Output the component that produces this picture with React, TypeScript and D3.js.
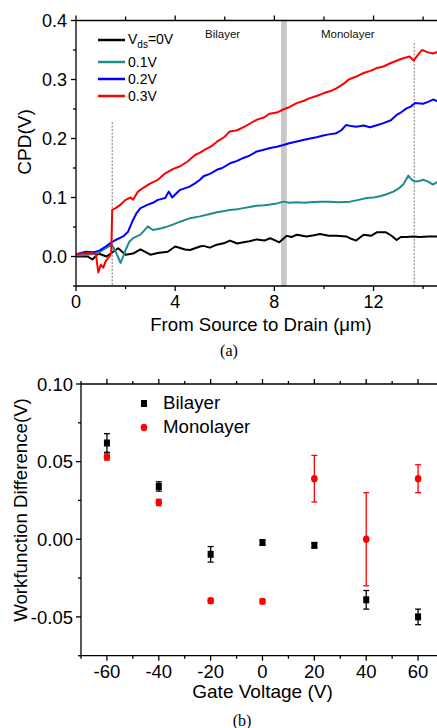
import React from "react";
import * as d3 from "d3";

// ---------- Panel (a) data ----------
const redX = [0, 0.3, 0.6, 0.8, 0.9, 1.0, 1.1, 1.2, 1.35, 1.42, 1.46, 1.6, 1.8, 2.0, 2.2, 2.3, 2.5, 2.7, 3.0, 3.3, 3.6, 3.9, 4.2, 4.5, 4.8, 5.0, 5.2, 5.5, 5.7, 6.0, 6.2, 6.5, 6.8, 7.0, 7.3, 7.6, 7.8, 8.1, 8.4, 8.6, 8.9, 9.2, 9.4, 9.7, 10.0, 10.3, 10.5, 10.8, 11.0, 11.3, 11.6, 11.9, 12.1, 12.4, 12.7, 13.0, 13.2, 13.45, 13.62, 13.8, 13.95, 14.2, 14.4, 14.6];
const redY = [0.004, 0.005, 0.006, 0.004, -0.027, -0.014, -0.019, -0.008, 0.0, 0.006, 0.079, 0.082, 0.088, 0.096, 0.1, 0.096, 0.11, 0.116, 0.124, 0.13, 0.141, 0.148, 0.153, 0.161, 0.172, 0.176, 0.181, 0.188, 0.195, 0.203, 0.212, 0.214, 0.22, 0.225, 0.232, 0.236, 0.242, 0.244, 0.25, 0.253, 0.26, 0.264, 0.268, 0.272, 0.277, 0.281, 0.285, 0.293, 0.3, 0.305, 0.311, 0.315, 0.319, 0.322, 0.328, 0.333, 0.336, 0.339, 0.332, 0.342, 0.35, 0.346, 0.344, 0.347];

const blueX = [0, 0.4, 0.7, 0.94, 1.2, 1.4, 1.6, 1.9, 2.1, 2.3, 2.45, 2.6, 2.9, 3.1, 3.3, 3.6, 3.74, 3.88, 4.0, 4.2, 4.56, 4.8, 5.0, 5.14, 5.4, 5.68, 5.9, 6.21, 6.5, 6.75, 7.0, 7.29, 7.5, 7.83, 8.1, 8.37, 8.6, 8.91, 9.2, 9.44, 9.7, 9.97, 10.2, 10.5, 10.7, 10.9, 11.1, 11.3, 11.6, 11.86, 12.1, 12.4, 12.7, 12.93, 13.1, 13.33, 13.5, 13.67, 14.0, 14.2, 14.4, 14.6];
const blueY = [0.004, 0.008, 0.007, 0.01, 0.017, 0.023, 0.028, 0.034, 0.042, 0.062, 0.074, 0.082, 0.088, 0.091, 0.096, 0.099, 0.11, 0.1, 0.105, 0.113, 0.118, 0.124, 0.13, 0.136, 0.14, 0.147, 0.15, 0.158, 0.162, 0.167, 0.171, 0.178, 0.18, 0.184, 0.186, 0.189, 0.192, 0.195, 0.198, 0.2, 0.202, 0.205, 0.207, 0.209, 0.214, 0.223, 0.221, 0.22, 0.222, 0.219, 0.222, 0.226, 0.231, 0.24, 0.244, 0.251, 0.254, 0.26, 0.259, 0.262, 0.266, 0.263];

const tealX = [0, 0.3, 0.6, 0.9, 1.2, 1.45, 1.6, 1.8, 2.0, 2.15, 2.3, 2.6, 2.9, 3.1, 3.45, 3.7, 3.9, 4.2, 4.6, 5.0, 5.4, 5.68, 6.0, 6.21, 6.5, 6.75, 7.0, 7.29, 7.6, 7.83, 8.1, 8.37, 8.6, 8.91, 9.2, 9.44, 9.84, 10.24, 10.6, 11.05, 11.4, 11.72, 12.0, 12.26, 12.5, 12.8, 13.0, 13.2, 13.4, 13.55, 13.67, 13.85, 14.0, 14.2, 14.4, 14.6];
const tealY = [0.002, 0.002, 0.004, 0.006, 0.014, 0.02, 0.008, -0.011, 0.011, 0.025, 0.031, 0.037, 0.051, 0.045, 0.048, 0.051, 0.054, 0.059, 0.065, 0.068, 0.072, 0.075, 0.077, 0.079, 0.08, 0.082, 0.084, 0.086, 0.087, 0.088, 0.09, 0.093, 0.091, 0.092, 0.091, 0.092, 0.093, 0.093, 0.092, 0.093, 0.096, 0.099, 0.1, 0.102, 0.105, 0.11, 0.115, 0.122, 0.137, 0.13, 0.127, 0.128, 0.13, 0.127, 0.122, 0.127];

const blackX = [0, 0.47, 0.66, 0.9, 1.23, 1.5, 1.7, 2.0, 2.3, 2.6, 3.0, 3.3, 3.7, 4.0, 4.4, 4.6, 5.0, 5.14, 5.4, 5.68, 6.0, 6.21, 6.5, 6.75, 7.0, 7.29, 7.6, 7.83, 8.2, 8.5, 8.7, 8.91, 9.3, 9.6, 9.84, 10.2, 10.5, 10.9, 11.1, 11.3, 11.6, 11.9, 12.13, 12.5, 12.7, 12.93, 13.1, 13.33, 13.6, 13.87, 14.2, 14.6];
const blackY = [0.0, 0.0, -0.005, 0.005, 0.0, 0.008, 0.014, 0.003, 0.005, 0.012, 0.003, 0.006, 0.008, 0.017, 0.012, 0.011, 0.017, 0.018, 0.015, 0.02, 0.023, 0.027, 0.022, 0.024, 0.026, 0.029, 0.027, 0.031, 0.024, 0.035, 0.033, 0.037, 0.034, 0.036, 0.038, 0.035, 0.035, 0.034, 0.03, 0.027, 0.037, 0.035, 0.041, 0.041, 0.036, 0.028, 0.033, 0.033, 0.034, 0.033, 0.034, 0.034];

const seriesNames = ["0V", "0.1V", "0.2V", "0.3V"];
const seriesColors = ["#000000", "#1f8c8c", "#0000ff", "#ff0000"];
const aXTicks = [0, 4, 8, 12];
const aXMinor = [2, 6, 10, 14];
const aYTicks = [0, 0.1, 0.2, 0.3, 0.4];
const aYMinor = [-0.05, 0.05, 0.15, 0.25, 0.35];
const bandRange = [8.27, 8.5];
const dashLines = [
  { x: 1.46, top: 0.228 },
  { x: 13.64, top: 0.362 },
];

// ---------- Panel (b) data ----------
const gateV = [-60, -40, -20, 0, 20, 40, 60];
const bilayerVal = [0.062, 0.034, -0.0097, -0.0021, -0.0039, -0.039, -0.05];
const bilayerErr = [0.006, 0.003, 0.005, 0.0015, 0.0015, 0.006, 0.005];
const monoVal = [0.053, 0.0237, -0.0396, -0.04, 0.039, 0.0, 0.039];
const monoErr = [0.002, 0.002, 0.0015, 0.0015, 0.015, 0.03, 0.009];
const bXTicks = [-60, -40, -20, 0, 20, 40, 60];
const bXMinor = [-70, -50, -30, -10, 10, 30, 50, 70];
const bYTicks = [0.1, 0.05, 0.0, -0.05];
const bYMinor = [0.075, 0.025, -0.025, -0.075];

const FONT = "'Liberation Sans', Arial, sans-serif";

export default function App() {
  // Panel (a) scales
  const xa = d3.scaleLinear().domain([0, 14.6]).range([76, 438]);
  const ya = d3.scaleLinear().domain([-0.05, 0.4]).range([286, 20.5]);
  const line = d3
    .line<[number, number]>()
    .x((d) => xa(d[0]))
    .y((d) => ya(d[1]));
  const seriesData: [number, number][][] = [
    blackX.map((x, i) => [x, blackY[i]]),
    tealX.map((x, i) => [x, tealY[i]]),
    blueX.map((x, i) => [x, blueY[i]]),
    redX.map((x, i) => [x, redY[i]]),
  ];

  // Panel (b) scales
  const xb = d3.scaleLinear().domain([-70, 70]).range([81, 444]);
  const yb = d3.scaleLinear().domain([-0.075, 0.1]).range([655.7, 384]);

  const aLeft = xa(0);
  const aBottom = ya(-0.05);
  const aTop = ya(0.4);
  const bLeft = xb(-70);
  const bBottom = yb(-0.075);
  const bTop = yb(0.1);

  return (
    <svg
      width={437}
      height={728}
      style={{ position: "absolute", left: 0, top: 0, background: "#fff" }}
      fontFamily={FONT}
    >
      <rect x={0} y={0} width={437} height={728} fill="#fff" />

      {/* ===== Panel (a) ===== */}
      <rect
        x={xa(bandRange[0])}
        y={aTop}
        width={xa(bandRange[1]) - xa(bandRange[0])}
        height={aBottom - aTop}
        fill="#c8c8c8"
      />
      {dashLines.map((d, i) => (
        <line
          key={i}
          x1={xa(d.x)}
          x2={xa(d.x)}
          y1={ya(d.top)}
          y2={aBottom}
          stroke="#555"
          strokeWidth={0.8}
          strokeDasharray="2,1.5"
        />
      ))}
      {seriesData.map((s, i) => (
        <path
          key={i}
          d={line(s) || ""}
          fill="none"
          stroke={seriesColors[i]}
          strokeWidth={2}
          strokeLinejoin="round"
        />
      ))}
      <text x={205} y={38} fontSize={11.5} fill="#111">Bilayer</text>
      <text x={321} y={38} fontSize={11.5} fill="#111">Monolayer</text>

      {/* legend (a) */}
      {seriesNames.map((n, i) => {
        const ly = i === 0 ? 40 : 62 + (i - 1) * 17;
        return (
          <g key={n}>
            <line x1={98} x2={125} y1={ly} y2={ly} stroke={seriesColors[i]} strokeWidth={2.5} />
            {i === 0 ? (
              <text x={128} y={44} fontSize={14}>
                V<tspan fontSize={10} dy={4}>ds</tspan>
                <tspan dy={-4}>=0V</tspan>
              </text>
            ) : (
              <text x={128} y={ly + 5} fontSize={14}>{n}</text>
            )}
          </g>
        );
      })}

      {/* axes (a) */}
      <g stroke="#000" strokeWidth={1.3}>
        <line x1={aLeft} x2={aLeft} y1={aTop} y2={aBottom} />
        <line x1={aLeft} x2={440} y1={aBottom} y2={aBottom} />
        <line x1={aLeft} x2={440} y1={aTop} y2={aTop} />
        {aYTicks.map((t) => (
          <line key={"ay" + t} x1={aLeft - 5} x2={aLeft} y1={ya(t)} y2={ya(t)} />
        ))}
        {aYMinor.map((t) => (
          <line key={"aym" + t} x1={aLeft - 3} x2={aLeft} y1={ya(t)} y2={ya(t)} />
        ))}
        {aXTicks.map((t) => (
          <g key={"ax" + t}>
            <line x1={xa(t)} x2={xa(t)} y1={aBottom} y2={aBottom + 5} />
            <line x1={xa(t)} x2={xa(t)} y1={aTop} y2={aTop - 5} />
          </g>
        ))}
        {aXMinor.map((t) => (
          <g key={"axm" + t}>
            <line x1={xa(t)} x2={xa(t)} y1={aBottom} y2={aBottom + 3} />
            <line x1={xa(t)} x2={xa(t)} y1={aTop} y2={aTop - 4} />
          </g>
        ))}
      </g>
      {aYTicks.map((t) => (
        <text key={"ayl" + t} x={67} y={ya(t)} dy="0.36em" fontSize={18} textAnchor="end">
          {t.toFixed(1)}
        </text>
      ))}
      {aXTicks.map((t) => (
        <text key={"axl" + t} x={xa(t)} y={308} fontSize={18} textAnchor="middle">
          {t}
        </text>
      ))}
      <text
        transform={`translate(${31},${142}) rotate(-90)`}
        fontSize={19}
        textAnchor="middle"
      >
        CPD(V)
      </text>
      <text x={261} y={331} fontSize={18.6} textAnchor="middle">
        From Source to Drain (μm)
      </text>
      <text x={229} y={356} fontSize={16} textAnchor="middle" fontFamily="'Liberation Serif', 'Times New Roman', serif">
        (a)
      </text>

      {/* ===== Panel (b) ===== */}
      {/* error bars */}
      {gateV.map((g, i) => (
        <g key={"be" + g} stroke="#000" strokeWidth={1.3}>
          <line x1={xb(g)} x2={xb(g)} y1={yb(bilayerVal[i] + bilayerErr[i])} y2={yb(bilayerVal[i] - bilayerErr[i])} />
          <line x1={xb(g) - 3} x2={xb(g) + 3} y1={yb(bilayerVal[i] + bilayerErr[i])} y2={yb(bilayerVal[i] + bilayerErr[i])} />
          <line x1={xb(g) - 3} x2={xb(g) + 3} y1={yb(bilayerVal[i] - bilayerErr[i])} y2={yb(bilayerVal[i] - bilayerErr[i])} />
        </g>
      ))}
      {gateV.map((g, i) => (
        <g key={"me" + g} stroke="#ff0000" strokeWidth={1.3}>
          <line x1={xb(g)} x2={xb(g)} y1={yb(monoVal[i] + monoErr[i])} y2={yb(monoVal[i] - monoErr[i])} />
          <line x1={xb(g) - 3} x2={xb(g) + 3} y1={yb(monoVal[i] + monoErr[i])} y2={yb(monoVal[i] + monoErr[i])} />
          <line x1={xb(g) - 3} x2={xb(g) + 3} y1={yb(monoVal[i] - monoErr[i])} y2={yb(monoVal[i] - monoErr[i])} />
        </g>
      ))}
      {gateV.map((g, i) => (
        <rect key={"bp" + g} x={xb(g) - 3} y={yb(bilayerVal[i]) - 3.5} width={6} height={7} fill="#000" />
      ))}
      {gateV.map((g, i) => (
        <ellipse key={"mp" + g} cx={xb(g)} cy={yb(monoVal[i])} rx={3.3} ry={3.7} fill="#ff0000" />
      ))}

      {/* legend (b) */}
      <rect x={141} y={400} width={6} height={7} fill="#000" />
      <text x={163} y={409} fontSize={18.7}>Bilayer</text>
      <ellipse cx={144} cy={427.5} rx={3.3} ry={3.7} fill="#ff0000" />
      <text x={163} y={433} fontSize={18.7}>Monolayer</text>

      {/* axes (b) */}
      <g stroke="#000" strokeWidth={1.3}>
        <line x1={bLeft} x2={bLeft} y1={bTop} y2={bBottom} />
        <line x1={bLeft} x2={440} y1={bBottom} y2={bBottom} />
        <line x1={bLeft} x2={440} y1={bTop} y2={bTop} />
        {bYTicks.map((t) => (
          <line key={"by" + t} x1={bLeft - 5} x2={bLeft} y1={yb(t)} y2={yb(t)} />
        ))}
        {bYMinor.map((t) => (
          <line key={"bym" + t} x1={bLeft - 3} x2={bLeft} y1={yb(t)} y2={yb(t)} />
        ))}
        {bXTicks.map((t) => (
          <g key={"bx" + t}>
            <line x1={xb(t)} x2={xb(t)} y1={bBottom} y2={bBottom + 5} />
            <line x1={xb(t)} x2={xb(t)} y1={bTop} y2={bTop - 5} />
          </g>
        ))}
        {bXMinor.map((t) => (
          <g key={"bxm" + t}>
            <line x1={xb(t)} x2={xb(t)} y1={bBottom} y2={bBottom + 3} />
            <line x1={xb(t)} x2={xb(t)} y1={bTop} y2={bTop - 3} />
          </g>
        ))}
      </g>
      {bYTicks.map((t) => (
        <text key={"byl" + t} x={73} y={yb(t)} dy="0.36em" fontSize={18.5} textAnchor="end">
          {t.toFixed(2)}
        </text>
      ))}
      {bXTicks.map((t) => (
        <text key={"bxl" + t} x={xb(t)} y={678} fontSize={18.5} textAnchor="middle">
          {t}
        </text>
      ))}
      <text
        transform={`translate(${27},${510}) rotate(-90)`}
        fontSize={18.7}
        textAnchor="middle"
      >
        Workfunction Difference(V)
      </text>
      <text x={262.5} y={698} fontSize={19} textAnchor="middle">
        Gate Voltage (V)
      </text>
      <text x={242} y={726} fontSize={16} textAnchor="middle" fontFamily="'Liberation Serif', 'Times New Roman', serif">
        (b)
      </text>
    </svg>
  );
}
